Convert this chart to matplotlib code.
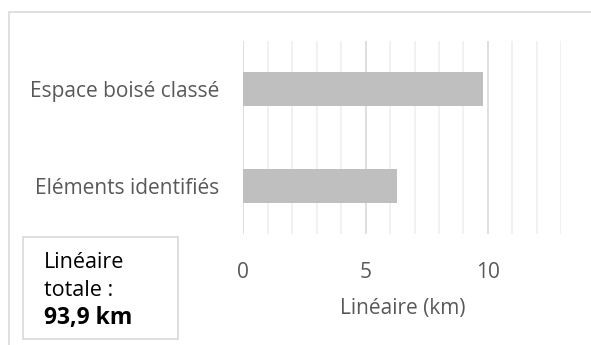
import matplotlib
matplotlib.use('Agg')
from matplotlib import pyplot as plt
from matplotlib.patches import Rectangle

plt.rcParams.update({
    'font.family': ['Open Sans', 'DejaVu Sans'],
    'font.size': 15,
})

categories = ['Eléments identifiés', 'Espace boisé classé']
lineaire_km = [6.3, 9.8]
total_lines = ['Linéaire', 'totale :']
total_value = '93,9 km'
major_ticks = [0, 5, 10]
minor_ticks = list(range(0, 14))

fig = plt.figure(figsize=(5.91, 3.45), dpi=100)
fig.patch.set_facecolor('white')

# outer chart frame
fig.patches.append(Rectangle((9 / 591, -0.1), 1.0, 1 - 12 / 345 + 0.1,
                             transform=fig.transFigure, fill=False,
                             edgecolor='#d9d9d9', linewidth=1.2))

ax = fig.add_axes([243.3 / 591, 1 - 234 / 345, 318 / 591, 193 / 345])
ax.barh(range(len(categories)), lineaire_km, height=0.35, color='#bfbfbf', zorder=3)

ax.set_xlim(0, 13)
ax.set_ylim(-0.5, 1.5)
ax.set_xticks(major_ticks)
ax.set_xticks(minor_ticks, minor=True)
ax.grid(axis='x', which='minor', color='#efefef', linewidth=1.2, zorder=0)
ax.grid(axis='x', which='major', color='#d9d9d9', linewidth=1.2, zorder=1)
ax.set_yticks(range(len(categories)))
ax.set_yticklabels(categories)
ax.tick_params(axis='both', which='both', length=0, colors='#595959', labelsize=15)
ax.tick_params(axis='y', pad=17)
ax.tick_params(axis='x', pad=20)
for s in ax.spines.values():
    s.set_visible(False)
ax.set_xlabel('Linéaire (km)', color='#595959', fontsize=15, labelpad=11)

# total box
fig.patches.append(Rectangle((23 / 591, 1 - 339 / 345), 155 / 591, 102 / 345,
                             transform=fig.transFigure, facecolor='white',
                             edgecolor='#d9d9d9', linewidth=1.2))
for y_px, line in zip([263, 291], total_lines):
    fig.text(44 / 591, 1 - y_px / 345, line, ha='left', va='center',
             fontsize=15.5, color='black')
fig.text(44 / 591, 1 - 318 / 345, total_value, ha='left', va='center',
         fontsize=16.5, color='black', fontweight='bold')

fig.savefig('out.png', dpi=100)
